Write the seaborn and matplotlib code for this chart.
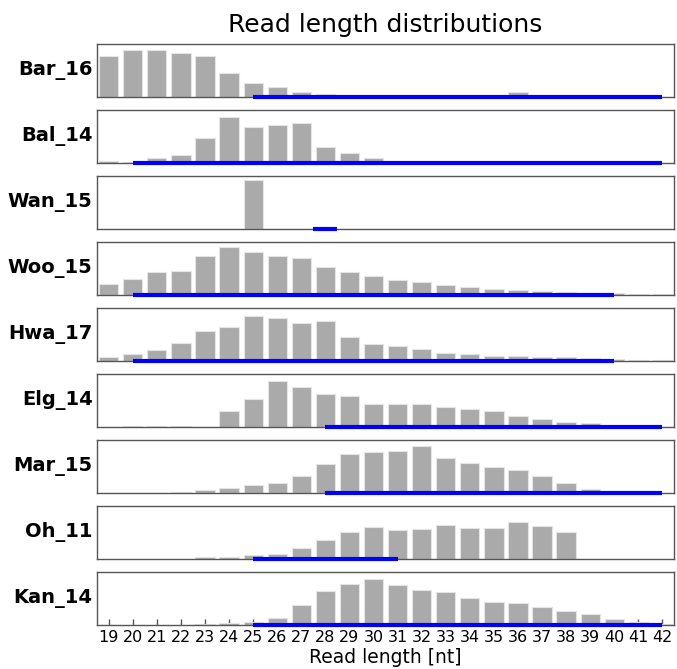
import matplotlib
matplotlib.use("Agg")
import matplotlib.pyplot as plt
import numpy as np
import pandas as pd
import seaborn as sns

# ---- data -------------------------------------------------------------
lengths = list(range(19, 43))
samples = ["Bar_16", "Bal_14", "Wan_15", "Woo_15", "Hwa_17",
           "Elg_14", "Mar_15", "Oh_11", "Kan_14"]

bar_16 = [121, 139, 139, 132, 121, 71, 41, 28, 13, 7, 0, 0, 0, 0, 0, 0, 0, 15, 0, 0, 0, 0, 0, 0]
bal_14 = [4, 1, 13, 24, 73, 137, 108, 114, 120, 47, 30, 13, 0, 0, 0, 0, 0, 0, 0, 0, 0, 0, 0, 0]
wan_15 = [0, 0, 0, 0, 0, 0, 145, 0, 0, 0, 0, 0, 0, 0, 0, 0, 0, 0, 0, 0, 0, 0, 0, 0]
woo_15 = [32, 47, 67, 71, 116, 142, 129, 116, 109, 83, 67, 56, 45, 37, 30, 23, 17, 14, 11, 8, 6, 4, 3, 2]
hwa_17 = [12, 21, 32, 54, 90, 101, 133, 127, 113, 120, 72, 49, 43, 36, 23, 21, 14, 13, 11, 11, 7, 6, 3, 3]
elg_14 = [0, 1, 1, 1, 0, 48, 84, 136, 119, 97, 91, 69, 67, 67, 58, 52, 48, 33, 22, 15, 10, 0, 0, 0]
mar_15 = [0, 0, 0, 1, 7, 15, 22, 28, 50, 86, 116, 123, 125, 139, 103, 88, 76, 69, 50, 28, 10, 0, 0, 0]
oh_11 = [0, 0, 0, 0, 4, 6, 11, 15, 32, 57, 79, 94, 87, 90, 100, 92, 92, 111, 97, 79, 0, 0, 0, 0]
kan_14 = [0, 0, 0, 0, 1, 4, 9, 20, 59, 102, 123, 136, 119, 104, 98, 80, 68, 64, 52, 42, 31, 18, 9, 2]

# selected length ranges (blue bars)
range_start = [25, 20, 27.5, 20, 20, 28, 28, 25, 25]
range_end = [42, 42, 28.5, 40, 40, 42, 42, 31, 42]

y_max = 158
title = "Read length distributions"
xlabel = "Read length [nt]"

values = [bar_16, bal_14, wan_15, woo_15, hwa_17, elg_14, mar_15, oh_11, kan_14]
df = pd.DataFrame({
    "length": lengths * len(samples),
    "sample": np.repeat(samples, len(lengths)),
    "value": np.concatenate(values),
})

# ---- plot -------------------------------------------------------------
sns.set_style("white")
plt.rcParams["font.family"] = ["DejaVu Sans"]
plt.rcParams["text.color"] = "black"
plt.rcParams["axes.labelcolor"] = "black"
plt.rcParams["xtick.labelcolor"] = "black"

fig, axes = plt.subplots(len(samples), 1, figsize=(6.77, 6.69), dpi=100, sharex=True)
fig.subplots_adjust(left=0.1428, right=0.9962, top=0.9342, bottom=0.0665, hspace=0.257)

spine_color = "#555555"
for i, (ax, s) in enumerate(zip(axes, samples)):
    sub = df[df["sample"] == s]
    sns.barplot(data=sub, x="length", y="value", ax=ax, native_scale=True,
                color="#aaaaaa", saturation=1, edgecolor="#e4e4e4",
                linewidth=0.8, errorbar=None)
    ax.hlines(0, range_start[i], range_end[i], colors="#0000ff", linewidth=3,
              clip_on=False, zorder=5)
    ax.set_ylim(0, y_max)
    ax.set_xlim(18.5, 42.5)
    ax.set_yticks([])
    ax.set_xlabel("")
    ax.set_ylabel(s, rotation=0, ha="right", va="center", fontsize=14,
                  fontweight="bold", labelpad=3, color="black")
    for sp in ax.spines.values():
        sp.set_visible(True)
        sp.set_color(spine_color)
        sp.set_linewidth(1.0)
    if i < len(samples) - 1:
        ax.tick_params(axis="x", length=0, labelbottom=False)

last = axes[-1]
last.set_xticks(lengths)
last.set_xticklabels([str(v) for v in lengths])
last.tick_params(axis="x", direction="in", length=4, width=1, color=spine_color,
                 labelcolor="black", labelsize=11.5, pad=4, bottom=True)
last.set_xlabel(xlabel, fontsize=13.5, labelpad=2, color="black")
axes[0].set_title(title, fontsize=18, pad=8.4, color="black")

fig.savefig("out.png", dpi=100)
